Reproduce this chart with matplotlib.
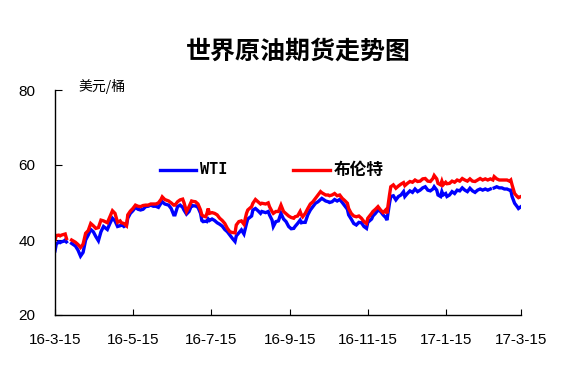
import matplotlib
matplotlib.use("Agg")
import matplotlib.pyplot as plt
import matplotlib.dates as mdates
from matplotlib.lines import Line2D
import numpy as np
import pandas as pd

nan = np.nan

dates = [
    # Mar-Jun 2016
    "2016-03-15", "2016-03-16", "2016-03-18", "2016-03-19", "2016-03-20", "2016-03-22", "2016-03-23", "2016-03-24",
    "2016-03-26",
    "2016-03-28", "2016-03-31", "2016-04-02", "2016-04-04", "2016-04-06", "2016-04-08", "2016-04-10", "2016-04-12",
    "2016-04-14", "2016-04-16", "2016-04-18", "2016-04-20", "2016-04-22", "2016-04-25", "2016-04-27", "2016-04-29",
    "2016-05-01", "2016-05-03", "2016-05-05", "2016-05-06", "2016-05-08", "2016-05-10", "2016-05-11", "2016-05-13",
    "2016-05-15", "2016-05-17", "2016-05-19", "2016-05-21", "2016-05-23", "2016-05-25", "2016-05-27", "2016-05-29",
    "2016-05-31", "2016-06-02", "2016-06-04", "2016-06-06", "2016-06-07", "2016-06-09", "2016-06-12", "2016-06-14",
    "2016-06-16",
    # Jun-Sep 2016
    "2016-06-17", "2016-06-19", "2016-06-21", "2016-06-23", "2016-06-24", "2016-06-26", "2016-06-28", "2016-06-30",
    "2016-07-01", "2016-07-03", "2016-07-05", "2016-07-07", "2016-07-08", "2016-07-09", "2016-07-11", "2016-07-12",
    "2016-07-13", "2016-07-14", "2016-07-16", "2016-07-18", "2016-07-20", "2016-07-22", "2016-07-24", "2016-07-26",
    "2016-07-28", "2016-07-30", "2016-08-01", "2016-08-03", "2016-08-04", "2016-08-06", "2016-08-08", "2016-08-10",
    "2016-08-12", "2016-08-13", "2016-08-16", "2016-08-17", "2016-08-19", "2016-08-21", "2016-08-23", "2016-08-24",
    "2016-08-27", "2016-08-29", "2016-08-30", "2016-09-01", "2016-09-02", "2016-09-04", "2016-09-06", "2016-09-08",
    "2016-09-10", "2016-09-12", "2016-09-14", "2016-09-16", "2016-09-18",
    # Sep-Dec 2016
    "2016-09-19", "2016-09-21", "2016-09-23", "2016-09-24", "2016-09-25", "2016-09-27", "2016-09-29", "2016-10-01",
    "2016-10-03", "2016-10-05", "2016-10-07", "2016-10-09", "2016-10-10", "2016-10-13", "2016-10-15", "2016-10-16",
    "2016-10-18", "2016-10-20", "2016-10-22", "2016-10-24", "2016-10-26", "2016-10-28", "2016-10-30", "2016-10-31",
    "2016-11-02", "2016-11-04", "2016-11-06", "2016-11-08", "2016-11-10", "2016-11-12", "2016-11-14", "2016-11-15",
    "2016-11-18", "2016-11-19", "2016-11-21", "2016-11-23", "2016-11-25", "2016-11-27", "2016-11-29", "2016-11-30",
    "2016-12-02", "2016-12-03", "2016-12-05", "2016-12-07", "2016-12-09", "2016-12-11", "2016-12-13",
    # Dec 2016 - Mar 2017
    "2016-12-14", "2016-12-16", "2016-12-18", "2016-12-20", "2016-12-22", "2016-12-24", "2016-12-26", "2016-12-28",
    "2016-12-30", "2017-01-01", "2017-01-03", "2017-01-05", "2017-01-06", "2017-01-08", "2017-01-09", "2017-01-11",
    "2017-01-12", "2017-01-13", "2017-01-15", "2017-01-16", "2017-01-18", "2017-01-20", "2017-01-22", "2017-01-24",
    "2017-01-26", "2017-01-28", "2017-01-30", "2017-02-01", "2017-02-03", "2017-02-05", "2017-02-07", "2017-02-09",
    "2017-02-11", "2017-02-13", "2017-02-15", "2017-02-17", "2017-02-19", "2017-02-21", "2017-02-22", "2017-02-24",
    "2017-02-26", "2017-02-28", "2017-03-02", "2017-03-04", "2017-03-06", "2017-03-07", "2017-03-08", "2017-03-10",
    "2017-03-12", "2017-03-13", "2017-03-15",
]

brent = [
    40.0, 41.2, 41.3, 41.1, 41.3, 41.5, 41.6, 40.4,
    nan,
    40.0, 39.4, 38.8, 38.0, 38.9, 41.8, 42.5, 44.4,
    43.8, 43.1, 43.3, 45.3, 45.1, 44.6, 46.2, 47.8,
    47.1, 44.7, 45.1, 44.6, 44.4, 43.8, 46.7, 47.7,
    48.4, 49.3, 49.0, 48.9, 49.2, 49.3, 49.3, 49.6,
    49.6, 49.6, 49.9, 50.8, 51.5, 50.8, 50.4, 49.9,
    49.3,
    49.3, 50.2, 50.7, 50.9, 50.0, 47.6, 48.9, 50.4,
    50.3, 50.2, 49.6, 48.0, 46.7, 46.4, 46.2, 47.1,
    48.4, 47.1, 47.3, 47.1, 46.7, 45.8, 45.2, 44.4,
    43.1, 42.2, 42.0, 41.9, 44.0, 44.9, 45.1, 44.2,
    47.1, 48.0, 48.9, 49.8, 50.8, 50.2, 49.6, 49.8,
    49.6, 49.9, 48.9, 47.6, 47.1, 47.6, 47.6, 49.3,
    47.6, 47.0, 46.4, 46.0, 45.8,
    46.2, 46.4, 47.6, 46.7, 46.2, 47.1, 48.4, 49.6,
    50.2, 51.1, 52.0, 52.9, 52.6, 52.0, 52.0, 51.8,
    52.0, 52.4, 51.8, 52.0, 51.1, 50.5, 49.8, 48.4,
    47.1, 46.4, 46.2, 46.4, 45.8, 44.9, 44.4, 45.8,
    47.1, 47.6, 48.2, 48.9, 48.0, 47.3, 48.0, 47.1,
    52.0, 54.2, 54.7, 53.8, 54.4, 54.9, 55.3,
    54.5, 55.1, 55.6, 55.4, 56.0, 55.6, 55.7, 56.3,
    56.4, 55.7, 55.6, 56.4, 57.2, 56.3, 55.1, 54.7,
    55.7, 54.7, 55.4, 55.0, 55.1, 55.7, 55.4, 56.0,
    55.7, 56.4, 56.0, 55.7, 56.3, 55.7, 55.6, 56.0,
    56.4, 56.0, 56.3, 56.0, 56.3, 56.0, 56.9, 56.3,
    56.0, 56.0, 56.0, 56.0, 55.7, 56.0, 54.7, 52.4,
    51.6, 51.3, 51.6,
]

wti = [
    37.1, 38.9, 39.5, 39.3, 39.5, 39.7, 40.0, 39.5,
    nan,
    39.1, 38.4, 37.3, 35.7, 36.7, 40.0, 41.3, 42.8,
    42.2, 40.9, 39.8, 42.2, 43.6, 42.8, 44.4, 45.8,
    45.1, 43.6, 43.8, 44.2, 43.6, 44.0, 45.8, 47.1,
    47.8, 48.7, 48.2, 48.0, 48.2, 48.9, 49.0, 49.3,
    49.0, 49.0, 48.7, 49.8, 50.2, 49.6, 49.3, 48.4,
    46.7,
    46.7, 48.9, 49.3, 48.7, 48.0, 46.9, 47.6, 49.3,
    49.1, 49.1, 48.7, 47.1, 45.2, 44.9, 45.0, 44.9,
    45.6, 45.2, 45.6, 45.2, 44.6, 44.2, 43.7, 42.8,
    42.2, 41.3, 40.4, 39.6, 41.1, 41.9, 42.7, 41.6,
    44.4, 45.6, 46.4, 48.0, 48.4, 47.8, 47.1, 47.6,
    47.3, 47.6, 46.7, 45.3, 43.6, 44.9, 45.1, 47.1,
    45.6, 44.9, 43.6, 43.0, 43.1,
    43.6, 44.4, 45.3, 44.6, 44.7, 44.7, 46.7, 48.0,
    48.9, 49.8, 50.2, 50.8, 51.1, 50.4, 50.2, 50.0,
    50.2, 50.8, 50.4, 50.8, 50.0, 49.1, 48.2, 46.7,
    45.6, 44.4, 44.0, 44.7, 44.6, 43.6, 43.1, 44.7,
    45.6, 46.4, 47.1, 48.0, 47.6, 46.7, 46.0, 45.3,
    49.8, 51.6, 51.8, 50.7, 51.6, 52.0, 52.9,
    51.6, 52.4, 53.1, 52.7, 53.6, 52.9, 53.3, 53.9,
    54.2, 53.3, 53.1, 53.6, 54.2, 53.3, 52.0, 51.6,
    52.9, 52.0, 52.4, 51.6, 52.0, 52.9, 52.4, 53.3,
    53.1, 53.9, 53.3, 52.9, 53.8, 53.1, 52.7, 53.3,
    53.6, 53.3, 53.6, 53.3, 53.6, nan, 53.9, 54.2,
    53.9, 53.9, 53.6, 53.6, 53.3, 53.3, 51.6, 49.8,
    48.9, 48.4, 48.9,
]

tick_dates = ["2016-03-15", "2016-05-15", "2016-07-15", "2016-09-15",
              "2016-11-15", "2017-01-15", "2017-03-15"]
tick_labels = ["16-3-15", "16-5-15", "16-7-15", "16-9-15", "16-11-15", "17-1-15", "17-3-15"]
y_ticks = [20, 40, 60, 80]

title = "世界原油期货走势图"
unit = "美元/桶"
series_names = ["WTI", "布伦特"]

x = pd.to_datetime(dates)
cjk = ["Noto Sans CJK SC", "DejaVu Sans"]

fig = plt.figure(figsize=(5.7, 3.76), dpi=100)
ax = fig.add_axes([55 / 570, 1 - 315 / 376, (521 - 55) / 570, (315 - 90) / 376])

ax.plot(x, wti, color="#0000FF", lw=2.4, solid_joinstyle="miter")
ax.plot(x, brent, color="#FF0000", lw=2.4, solid_joinstyle="miter")

ax.set_xlim(pd.Timestamp("2016-03-15"), pd.Timestamp("2017-03-15"))
ax.set_ylim(20, 80)
ax.set_yticks(y_ticks)
ax.set_xticks(pd.to_datetime(tick_dates))
ax.set_xticklabels(tick_labels)

for s in ["top", "right"]:
    ax.spines[s].set_visible(False)
for s in ["left", "bottom"]:
    ax.spines[s].set_color("black")
    ax.spines[s].set_linewidth(1.0)

ax.tick_params(axis="y", direction="in", length=5, pad=14, labelsize=11, colors="black")
ax.tick_params(axis="x", direction="in", length=4, pad=13, labelsize=11, colors="black")
for lab in ax.get_xticklabels() + ax.get_yticklabels():
    lab.set_fontfamily("Liberation Sans")

fig.text(298 / 570, 1 - 52 / 376, title, ha="center", va="center",
         fontsize=18, fontweight="bold", family=cjk)
fig.text(78 / 570, 1 - 86 / 376, unit, ha="left", va="center", fontsize=10, family=cjk)

# legend
ly = 1 - 170 / 376
fig.add_artist(Line2D([160 / 570, 196 / 570], [ly, ly], color="#0000FF", lw=2.4,
                      transform=fig.transFigure))
fig.text(200 / 570, ly, series_names[0], ha="left", va="center", fontsize=11,
         fontweight="bold", family=["DejaVu Sans Mono"])
fig.add_artist(Line2D([293 / 570, 330 / 570], [ly, ly], color="#FF0000", lw=2.4,
                      transform=fig.transFigure))
fig.text(334 / 570, ly, series_names[1], ha="left", va="center", fontsize=12,
         fontweight="bold", family=cjk)

fig.savefig("out.png", dpi=100)
